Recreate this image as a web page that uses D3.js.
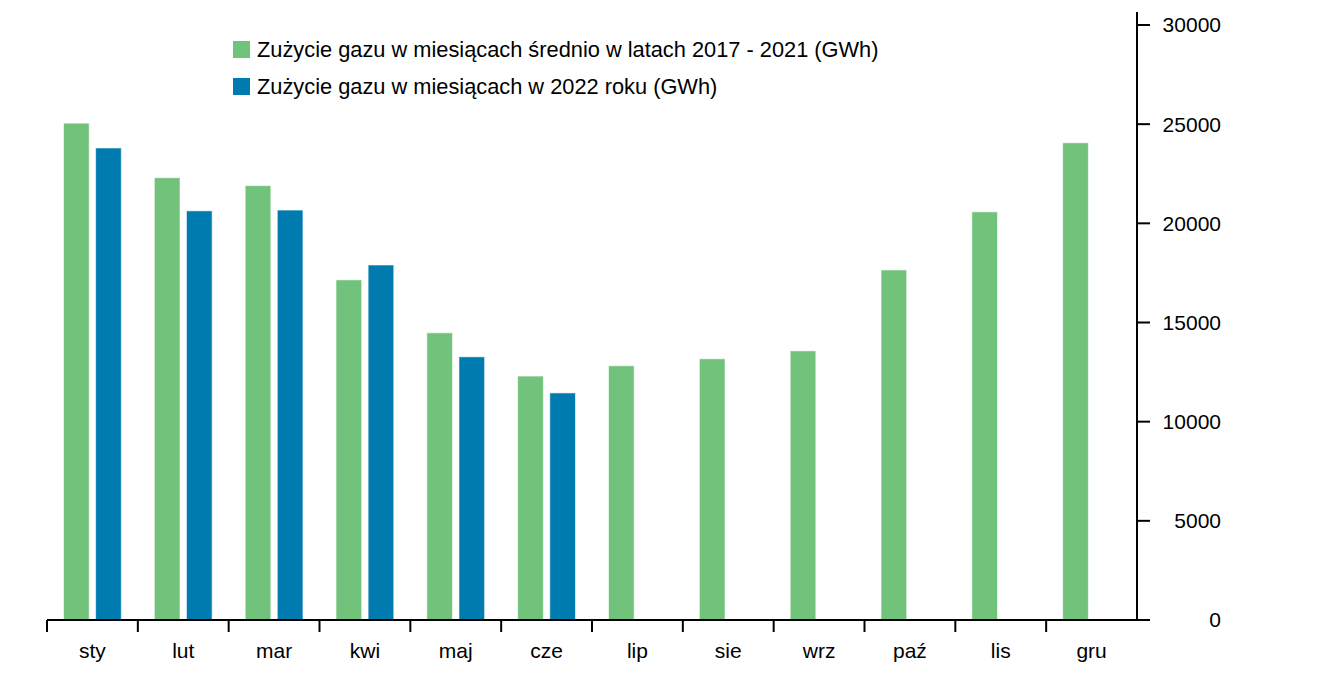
<!DOCTYPE html>
<html>
<head>
<meta charset="utf-8">
<script src="https://cdn.jsdelivr.net/npm/d3@7"></script>
<style>
    body { margin: 0; background: #fff; }
    svg { font-family: "Liberation Sans", Arial, sans-serif; }
</style>
</head>
<body>
<svg id="chart" width="1318" height="680"></svg>
<script>
const months = ["sty", "lut", "mar", "kwi", "maj", "cze", "lip", "sie", "wrz", "paź", "lis", "gru"];
const avg_2017_2021 = [25050, 22300, 21900, 17150, 14480, 12300, 12820, 13170, 13570, 17650, 20580, 24060];
const year_2022 = [23800, 20630, 20670, 17900, 13270, 11450, null, null, null, null, null, null];
const y_ticks = [0, 5000, 10000, 15000, 20000, 25000, 30000];
const series_names = [
    "Zużycie gazu w miesiącach średnio w latach 2017 - 2021 (GWh)",
    "Zużycie gazu w miesiącach w 2022 roku (GWh)"
];
const colors = ["#71c27a", "#007bb0"];

(function (d3) {
    'use strict';

    const svg = d3.select("#chart");
    const left = 47, right = 1137, top = 12, bottom = 620;

    const x = d3.scaleBand().domain(months).range([left, right]);
    const x1 = d3.scaleBand().domain([0, 1]).range([16.5, 74.3]).paddingInner(0.2);
    const y = d3.scaleLinear().domain([0, 30000]).range([bottom, 25]);

    // bars
    const rows = months.map((m, i) => ({m: m, vals: [avg_2017_2021[i], year_2022[i]]}));
    const group = svg.append("g").selectAll("g")
        .data(rows)
        .enter().append("g")
        .attr("transform", d => "translate(" + x(d.m) + ",0)");

    group.selectAll("rect")
        .data(d => d.vals.map((v, k) => ({k: k, v: v})).filter(e => e.v != null))
        .enter().append("rect")
        .attr("x", e => x1(e.k))
        .attr("width", x1.bandwidth())
        .attr("y", e => y(e.v))
        .attr("height", e => bottom - y(e.v))
        .attr("fill", e => colors[e.k])
        .attr("stroke", "#fff")
        .attr("stroke-opacity", 0.6)
        .attr("stroke-width", 1);

    // x axis
    const xa = svg.append("g");
    xa.append("line")
        .attr("x1", left).attr("x2", right)
        .attr("y1", bottom).attr("y2", bottom)
        .attr("stroke", "#000").attr("stroke-width", 2);
    xa.selectAll(".xt")
        .data(months)
        .enter().append("line")
        .attr("x1", d => x(d)).attr("x2", d => x(d))
        .attr("y1", bottom).attr("y2", bottom + 12)
        .attr("stroke", "#000").attr("stroke-width", 2);
    xa.selectAll("text")
        .data(months)
        .enter().append("text")
        .attr("x", d => x(d) + x.bandwidth() / 2)
        .attr("y", 658)
        .attr("text-anchor", "middle")
        .style("font-size", "21px")
        .text(d => d);

    // y axis on right
    const ya = svg.append("g");
    ya.append("line")
        .attr("x1", right).attr("x2", right)
        .attr("y1", top).attr("y2", bottom + 1)
        .attr("stroke", "#000").attr("stroke-width", 2);
    ya.selectAll(".yt")
        .data(y_ticks)
        .enter().append("line")
        .attr("x1", right).attr("x2", right + 13)
        .attr("y1", d => y(d)).attr("y2", d => y(d))
        .attr("stroke", "#000").attr("stroke-width", 2);
    ya.selectAll("text")
        .data(y_ticks)
        .enter().append("text")
        .attr("x", 1221)
        .attr("y", d => y(d))
        .attr("dy", "0.35em")
        .attr("text-anchor", "end")
        .style("font-size", "21px")
        .text(d => d);

    // legend
    const lg = svg.append("g").selectAll("g")
        .data(series_names)
        .enter().append("g")
        .attr("transform", (d, i) => "translate(233," + (41 + i * 37) + ")");
    lg.append("rect")
        .attr("width", 17).attr("height", 17)
        .attr("fill", (d, i) => colors[i]);
    lg.append("text")
        .attr("x", 24).attr("y", 8.5)
        .attr("dy", "0.35em")
        .style("font-size", "21.8px")
        .text(d => d);
}(d3));
</script>
</body>
</html>
